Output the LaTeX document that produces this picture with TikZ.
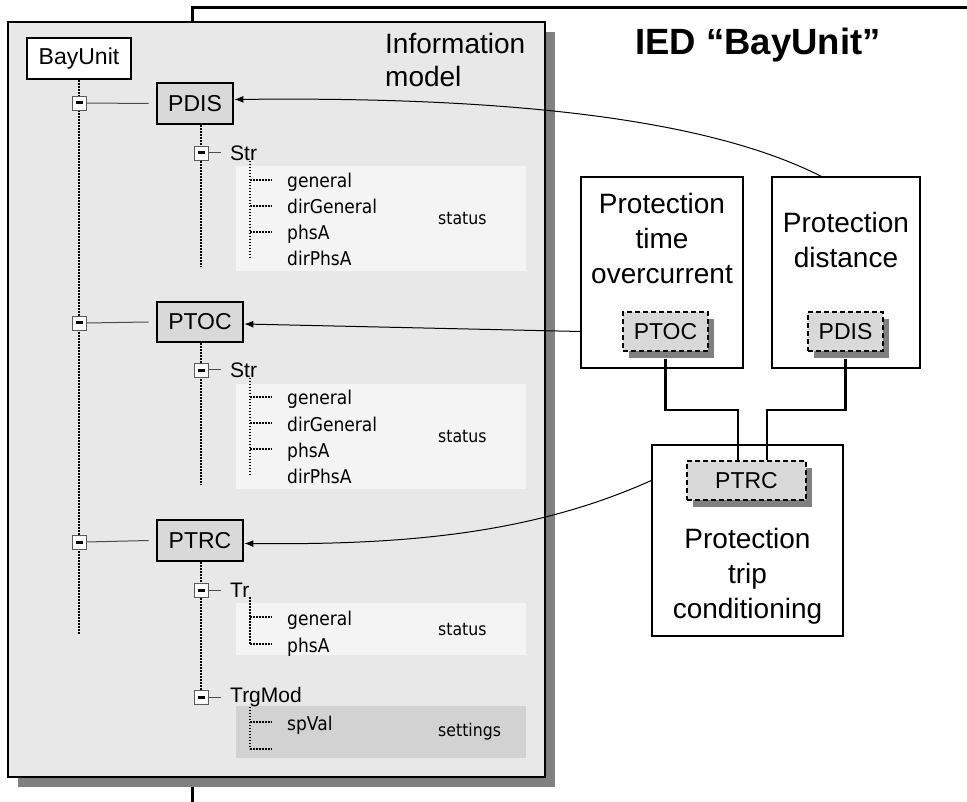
\documentclass[tikz,border=0pt]{standalone}
\usepackage{fontspec}
\setmainfont{Liberation Sans}
\newfontfamily\tah[FakeStretch=0.9]{DejaVu Sans}
\usetikzlibrary{arrows.meta,shadows}
\definecolor{infogray}{HTML}{E8E8E8}
\definecolor{panelgray}{HTML}{F4F4F4}
\definecolor{setgray}{HTML}{D2D2D2}
\definecolor{nodegray}{HTML}{D9D9D9}
\definecolor{shadowgray}{HTML}{808080}
\pgfdeclarelayer{back}
\pgfdeclarelayer{mid}
\pgfsetlayers{back,mid,main}
\newcommand\brnch[1]{\draw[dotline] ([xshift=-37pt,yshift=8pt]#1.base west) -- ([xshift=-15pt,yshift=8pt]#1.base west);}
\begin{document}
\begin{tikzpicture}[x=1pt,y=-1pt,
  lnode/.style={draw=black, line width=2.8pt, fill=nodegray, inner sep=0pt, font=\fontsize{23}{27}\selectfont},
  expander/.style={draw=black!65, fill=white, line width=0.9pt, minimum size=14pt, inner sep=0pt, outer sep=0pt},
  lab/.style={inner sep=0pt, anchor=west, font=\fontsize{21}{25}\selectfont},
  item/.style={inner sep=0pt, anchor=base west, font=\tah\fontsize{19}{23}\selectfont},
  stat/.style={inner sep=0pt, anchor=west, font=\tah\fontsize{17.5}{21}\selectfont},
  dotline/.style={line width=1.5pt, dash pattern=on 1.5pt off 1.5pt},
  fbox/.style={draw=black, line width=1.5pt, fill=white, inner sep=0pt},
  ftext/.style={inner sep=0pt, align=center, font=\fontsize{28}{35}\selectfont},
  dnode/.style={draw=black, line width=1.5pt, dash pattern=on 5pt off 3pt, fill=nodegray, inner sep=0pt,
     font=\fontsize{23}{27}\selectfont,
     drop shadow={shadow xshift=6pt, shadow yshift=-7pt, fill=shadowgray, opacity=1}},
  heavy/.style={line width=2.6pt, black},
  arr/.style={line width=1pt, -{Latex[length=9pt,width=7pt]}}
]
\useasboundingbox (0,0) rectangle (967,802);

\begin{pgfonlayer}{back}
  % IED frame
  \draw[line width=3pt] (192,802) -- (192,8) -- (967,8);
  % information model box with shadow
  \fill[shadowgray] (18,32) rectangle (555,787);
  \draw[line width=2pt, fill=infogray] (8,22) rectangle (545,777);
  % panels
  \fill[panelgray] (236,166) rectangle (526,271);
  \fill[panelgray] (236,384) rectangle (526,489);
  \fill[panelgray] (236,603) rectangle (526,655);
  \fill[setgray] (236,706) rectangle (526,758);
\end{pgfonlayer}

% titles
\node[inner sep=0pt, anchor=base, font=\bfseries\fontsize{36.5}{40}\selectfont] (ied) at (758,55) {IED “BayUnit”};
\node[inner sep=0pt, anchor=north west, align=left, font=\fontsize{28}{33}\selectfont] (im) at (385,33) {Information\\model};

% tree nodes
\node[lnode, fill=white, minimum width=104pt, minimum height=41pt] (bay) at (79,58.5) {BayUnit};
\node[lnode, minimum width=76pt, minimum height=41pt] (PDIS) at (195,103.5) {PDIS};
\node[lnode, minimum width=86pt, minimum height=40pt] (PTOC) at (200,322) {PTOC};
\node[lnode, minimum width=86pt, minimum height=41pt] (PTRC) at (200,540.5) {PTRC};

\node[expander] (e1) at (79,103) {\rule{7pt}{3pt}};
\node[expander] (e2) at (79,323) {\rule{7pt}{3pt}};
\node[expander] (e3) at (79,542) {\rule{7pt}{3pt}};
\node[expander] (s1) at (201,153) {\rule{7pt}{3pt}};
\node[expander] (s2) at (201,370) {\rule{7pt}{3pt}};
\node[expander] (s3) at (201,590) {\rule{7pt}{3pt}};
\node[expander] (s4) at (201,697) {\rule{7pt}{3pt}};

\node[lab] (str1) at (230,153) {Str};
\node[lab] (str2) at (230,370) {Str};
\node[lab] (tr) at (230,590) {Tr};
\node[lab] (trg) at (230,697) {TrgMod};

% items
\node[item] (a1) at (287,188) {general};
\node[item] (a2) at (287,214) {dirGeneral};
\node[item] (a3) at (287,240) {phsA};
\node[item] (a4) at (287,266) {dirPhsA};
\node[stat] (st1) at (438,218.5) {status};

\node[item] (b1) at (287,405) {general};
\node[item] (b2) at (287,431) {dirGeneral};
\node[item] (b3) at (287,457) {phsA};
\node[item] (b4) at (287,483) {dirPhsA};
\node[stat] (st2) at (438,436.5) {status};

\node[item] (c1) at (287,625) {general};
\node[item] (c2) at (287,652) {phsA};
\node[stat] (st3) at (438,629) {status};

\node[item] (d1) at (287,730) {spVal};
\coordinate (d2) at (272,749);
\node[stat] (st4) at (438,732) {settings};

\coordinate (mainend) at (79,635);
\coordinate (pdisend) at (201,267);
\coordinate (ptocend) at (201,485);

\begin{pgfonlayer}{mid}
  \draw[dotline] (bay.south) -- (mainend);
  \draw[dotline] (PDIS.south -| s1) -- (pdisend);
  \draw[dotline] (PTOC.south -| s2) -- (ptocend);
  \draw[dotline] (PTRC.south -| s3) -- (s4);
  \draw[line width=1pt, black!70] (e1.east) -- ([xshift=-7pt]PDIS.west);
  \draw[line width=1pt, black!70] (e2.east) -- ([xshift=-7pt]PTOC.west);
  \draw[line width=1pt, black!70] (e3.east) -- ([xshift=-7pt]PTRC.west);
  \draw[line width=1pt, black!70] (s1.east) -- ++(13,0);
  \draw[line width=1pt, black!70] (s2.east) -- ++(13,0);
  \draw[line width=1pt, black!70] (s3.east) -- ++(13,0);
  \draw[line width=1pt, black!70] (s4.east) -- ++(13,0);
  % inner verticals
  \draw[dotline] ([xshift=20pt]str1.south west) -- ([xshift=-37pt,yshift=8pt]a4.base west);
  \draw[dotline] ([xshift=20pt]str2.south west) -- ([xshift=-37pt,yshift=8pt]b4.base west);
  \draw[dotline] ([xshift=20pt]tr.south west) -- ([xshift=-37pt,yshift=8pt]c2.base west);
  \draw[dotline] ([xshift=20pt]trg.south west) -- ([xshift=-22pt]d2);
  \brnch{a1}\brnch{a2}\brnch{a3}
  \brnch{b1}\brnch{b2}\brnch{b3}
  \brnch{c1}\brnch{c2}
  \brnch{d1}
  \draw[dotline] ([xshift=-22pt]d2) -- (d2);
\end{pgfonlayer}

% right side function boxes
\node[fbox, minimum width=162pt, minimum height=191pt] (ptocbox) at (662,272.5) {};
\node[fbox, minimum width=148pt, minimum height=191pt] (pdisbox) at (846,272.5) {};
\node[fbox, minimum width=191pt, minimum height=191pt] (ptrcbox) at (747.5,540.5) {};

\node[ftext] (t1) at (662,238) {Protection\\time\\overcurrent};
\node[ftext] (t2) at (846,240) {Protection\\distance};
\node[ftext] (t3) at (747.5,576) {Protection\\trip\\conditioning};

\node[dnode, minimum width=85pt, minimum height=39pt] (dPTOC) at (665.5,331.5) {PTOC};
\node[dnode, minimum width=75pt, minimum height=39pt] (dPDIS) at (845.5,331.5) {PDIS};
\node[dnode, minimum width=119pt, minimum height=39pt] (dPTRC) at (746.5,480.5) {PTRC};

\coordinate (j1) at (738,410);
\coordinate (j2) at (767,410);
\draw[heavy] ([yshift=-7pt]dPTOC.south) |- (j1) -- (j1 |- dPTRC.north);
\draw[heavy] ([yshift=-7pt]dPDIS.south) |- (j2) -- (j2 |- dPTRC.north);

% arrows
\draw[arr] ([xshift=-25pt]pdisbox.north) .. controls (720,125) and (540,96) .. ([yshift=4pt]PDIS.east);
\draw[arr] (ptocbox.west |- dPTOC.center) -- ([yshift=-2pt]PTOC.east);
\draw[arr] (ptrcbox.west |- dPTRC.center) .. controls (530,535) and (400,545) .. ([yshift=-3pt]PTRC.east);
\end{tikzpicture}
\end{document}
